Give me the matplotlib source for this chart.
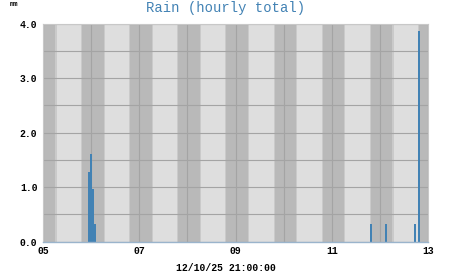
import matplotlib.pyplot as plt
import numpy as np

# hourly rain, bar centres as day-of-month + hour/24
rain_day = [5, 6, 6, 6, 11, 12, 12, 12]
rain_hour = [23.0, 0.0, 1.0, 2.0, 19.5, 3.25, 17.5, 19.5]
rain_mm = [1.28, 1.61, 0.96, 0.32, 0.32, 0.32, 0.32, 3.87]

days = [5, 6, 7, 8, 9, 10, 11, 12]
sunrise_h = 6.8
sunset_h = 19.0

x_ticks = [5, 7, 9, 11, 13]
x_labels = ["05", "07", "09", "11", "13"]
y_ticks = [0, 1, 2, 3, 4]
y_labels = ["0.0", "1.0", "2.0", "3.0", "4.0"]

night_col = "#b9b9b9"
day_col = "#dedede"
edge_col = "#cacaca"
grid_col = "#a4a4a4"
bar_col = "#4282b4"

fig = plt.figure(figsize=(4.51, 2.75), dpi=100)
ax = fig.add_axes([43 / 451, 1 - 241.7 / 275, 385 / 451, 218.2 / 275])
ax.set_facecolor(night_col)

for d in days:
    ax.axvspan(d + (sunrise_h - 0.6) / 24, d + sunrise_h / 24, color=edge_col, lw=0, zorder=0)
    ax.axvspan(d + sunrise_h / 24, d + sunset_h / 24, color=day_col, lw=0, zorder=0)
    ax.axvspan(d + sunset_h / 24, d + (sunset_h + 0.5) / 24, color=edge_col, lw=0, zorder=0)

for d in np.arange(5, 14):
    ax.axvline(d, color=grid_col, lw=0.8, zorder=1)
for y in np.arange(0, 4.01, 0.5):
    ax.axhline(y, color=grid_col, lw=0.8, zorder=1)

x = np.array(rain_day) + np.array(rain_hour) / 24
ax.bar(x, rain_mm, width=1 / 24 * 0.9, color=bar_col, lw=0, zorder=2)

ax.set_xlim(5, 13)
ax.set_ylim(0, 4)
ax.set_xticks(x_ticks)
ax.set_xticklabels(x_labels)
ax.set_yticks(y_ticks)
ax.set_yticklabels(y_labels)
ax.tick_params(length=0, pad=4, labelsize=7)
for lab in ax.get_xticklabels() + ax.get_yticklabels():
    lab.set_family("Liberation Mono")
    lab.set_fontweight("bold")
ax.tick_params(axis="x", pad=3)

for s in ["top", "right", "left"]:
    ax.spines[s].set_color("#c8c8c8")
    ax.spines[s].set_linewidth(0.8)
ax.spines["bottom"].set_color("#9ab4cc")
ax.spines["bottom"].set_linewidth(1.0)

fig.text(0.5, 1 - 8 / 275, "Rain (hourly total)", ha="center", va="center",
         family="Liberation Mono", fontsize=10, color=bar_col)
fig.text(10 / 451, 1 - 5 / 275, "mm", ha="left", va="center",
         family="Liberation Mono", fontsize=5, fontweight="bold")
fig.text(0.5, 1 - 268 / 275, "12/10/25 21:00:00", ha="center", va="center",
         family="Liberation Mono", fontsize=7, fontweight="bold")

fig.savefig("out.png", dpi=100)
